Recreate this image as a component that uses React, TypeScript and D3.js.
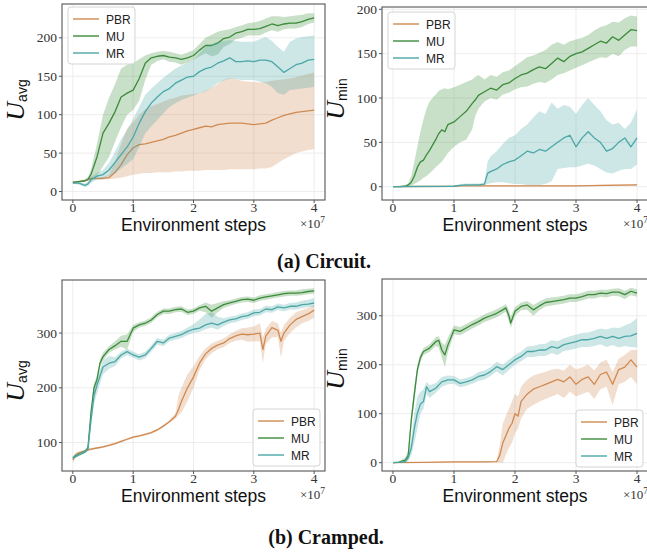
import React from 'react';
import * as d3 from 'd3';

// each row: [steps (x1e7), lower, mean, upper]
type Row = [number, number, number, number];

const methods = ['PBR', 'MU', 'MR'];
const colors = ['#cf8a52', '#3b8b3b', '#4ba7a7'];
const xTicks = [0, 1, 2, 3, 4];

const circuitAvgTicks = [0, 50, 100, 150, 200];
const circuitMinTicks = [0, 50, 100, 150, 200];
const crampedAvgTicks = [100, 200, 300];
const crampedMinTicks = [0, 100, 200, 300];

const circuitAvgPBR: Row[] = [
  [0, 11, 12, 13], [0.1, 12, 13, 14], [0.2, 13, 14, 15], [0.3, 16, 17, 18], [0.4, 16, 17, 18],
  [0.5, 16, 17, 19], [0.6, 16, 18, 22], [0.7, 17, 25, 40], [0.8, 18, 35, 62], [0.9, 20, 48, 82],
  [1.0, 22, 57, 90], [1.1, 23, 61, 100], [1.2, 24, 62, 107], [1.3, 24, 64, 111], [1.4, 25, 66, 114],
  [1.5, 25, 68, 117], [1.6, 25, 71, 120], [1.7, 26, 73, 122], [1.8, 26, 76, 125], [1.9, 27, 79, 126],
  [2.0, 27, 81, 127], [2.1, 27, 83, 128], [2.2, 28, 85, 131], [2.3, 28, 84, 135], [2.4, 28, 87, 140],
  [2.5, 28, 88, 145], [2.6, 29, 89, 148], [2.7, 29, 89, 146], [2.8, 29, 89, 144], [2.9, 29, 88, 143],
  [3.0, 29, 87, 143], [3.1, 30, 88, 142], [3.2, 30, 89, 143], [3.3, 32, 93, 144], [3.4, 37, 96, 145],
  [3.5, 42, 99, 146], [3.6, 46, 101, 147], [3.7, 50, 103, 149], [3.8, 52, 104, 151], [3.9, 54, 105, 153],
  [4.0, 55, 106, 155],
];
const circuitAvgMU: Row[] = [
  [0, 11, 12, 13], [0.1, 12, 13, 14], [0.2, 13, 14, 16], [0.25, 14, 16, 19], [0.3, 15, 22, 28],
  [0.4, 20, 45, 62], [0.5, 33, 76, 100], [0.6, 45, 89, 122], [0.7, 65, 104, 140], [0.8, 84, 123, 160],
  [0.9, 100, 128, 165], [1.0, 106, 132, 167], [1.1, 118, 147, 172], [1.2, 145, 167, 177], [1.3, 165, 174, 180],
  [1.4, 170, 176, 182], [1.5, 172, 177, 183], [1.6, 169, 175, 182], [1.7, 168, 174, 180], [1.8, 165, 172, 178],
  [1.9, 168, 174, 181], [2.0, 171, 177, 184], [2.1, 176, 184, 192], [2.2, 180, 190, 200], [2.3, 176, 190, 204],
  [2.4, 178, 193, 208], [2.5, 188, 199, 210], [2.6, 192, 201, 211], [2.7, 198, 206, 214], [2.8, 200, 208, 216],
  [2.9, 203, 211, 219], [3.0, 203, 211, 220], [3.1, 203, 212, 222], [3.2, 207, 215, 225], [3.3, 210, 218, 228],
  [3.4, 208, 216, 228], [3.5, 211, 218, 227], [3.6, 212, 219, 228], [3.7, 212, 219, 229], [3.8, 214, 221, 230],
  [3.9, 218, 224, 232], [4.0, 220, 226, 232],
];
const circuitAvgMR: Row[] = [
  [0, 10, 11, 12], [0.1, 9, 11, 13], [0.2, 6, 8, 10], [0.25, 7, 10, 13], [0.3, 11, 15, 19],
  [0.4, 16, 20, 24], [0.5, 17, 22, 28], [0.6, 20, 28, 37], [0.7, 24, 38, 52], [0.8, 30, 48, 68],
  [0.9, 36, 58, 80], [1.0, 42, 71, 95], [1.1, 58, 89, 110], [1.2, 76, 104, 126], [1.3, 85, 115, 134],
  [1.4, 93, 123, 141], [1.5, 102, 130, 148], [1.6, 110, 134, 154], [1.7, 115, 141, 160], [1.8, 119, 145, 164],
  [1.9, 122, 149, 168], [2.0, 125, 150, 171], [2.1, 128, 156, 180], [2.2, 130, 160, 188], [2.3, 135, 162, 192],
  [2.4, 141, 167, 195], [2.5, 144, 170, 196], [2.6, 147, 174, 197], [2.7, 146, 169, 196], [2.8, 145, 169, 195],
  [2.9, 145, 170, 195], [3.0, 145, 169, 195], [3.1, 143, 171, 198], [3.2, 141, 171, 201], [3.3, 136, 169, 196],
  [3.4, 128, 162, 188], [3.5, 126, 155, 182], [3.6, 132, 160, 195], [3.7, 133, 165, 199], [3.8, 134, 167, 201],
  [3.9, 135, 171, 202], [4.0, 136, 172, 203],
];

const circuitMinPBR: Row[] = [
  [0, 0, 0, 0], [1.0, 0, 0.5, 1], [1.1, 0.5, 1, 1.5], [2.0, 0.5, 1, 1.5], [3.0, 0.5, 1, 1.5],
  [3.5, 1, 1.5, 2.5], [4.0, 1, 2, 3],
];
const circuitMinMU: Row[] = [
  [0, 0, 0, 0], [0.1, 0, 0, 0.5], [0.2, 0, 0.5, 1.5], [0.25, 0.5, 2, 4], [0.3, 1, 5, 12],
  [0.35, 3, 12, 28], [0.4, 5, 22, 45], [0.45, 7, 28, 62], [0.5, 10, 30, 76], [0.55, 12, 36, 88],
  [0.6, 15, 41, 96], [0.7, 22, 53, 104], [0.75, 25, 60, 108], [0.8, 28, 64, 110], [0.85, 33, 62, 111],
  [0.9, 38, 70, 110], [1.0, 45, 73, 112], [1.1, 50, 79, 115], [1.2, 53, 85, 118], [1.3, 65, 94, 121],
  [1.35, 80, 98, 124], [1.4, 88, 103, 126], [1.5, 96, 107, 121], [1.6, 100, 111, 126], [1.7, 98, 109, 124],
  [1.8, 104, 115, 129], [1.9, 106, 117, 131], [2.0, 110, 122, 136], [2.1, 112, 126, 141], [2.2, 113, 128, 146],
  [2.3, 116, 132, 148], [2.4, 118, 135, 151], [2.5, 117, 133, 154], [2.6, 121, 139, 160], [2.7, 126, 145, 163],
  [2.8, 128, 141, 160], [2.9, 131, 147, 164], [3.0, 134, 150, 166], [3.1, 137, 152, 168], [3.2, 140, 156, 171],
  [3.3, 143, 160, 176], [3.4, 146, 164, 180], [3.5, 145, 162, 182], [3.6, 150, 169, 186], [3.7, 147, 165, 185],
  [3.8, 154, 171, 190], [3.9, 158, 177, 193], [4.0, 158, 176, 192],
];
const circuitMinMR: Row[] = [
  [0, 0, 0, 0], [1.0, 0, 0.5, 1], [1.1, 0.5, 1.5, 3], [1.2, 1, 2, 3.5], [1.4, 1, 2, 3.5],
  [1.5, 1.5, 3, 4.5], [1.55, 3, 15, 28], [1.6, 4, 17, 34], [1.7, 5, 20, 40], [1.8, 5, 25, 48],
  [1.9, 4, 28, 55], [2.0, 3, 30, 58], [2.1, 3, 35, 65], [2.2, 2, 40, 70], [2.3, 2, 38, 78],
  [2.4, 2, 42, 85], [2.5, 3, 40, 82], [2.6, 6, 45, 95], [2.7, 20, 50, 88], [2.8, 21, 55, 92],
  [2.9, 22, 58, 90], [3.0, 22, 45, 82], [3.1, 24, 55, 92], [3.2, 26, 62, 100], [3.3, 24, 55, 92],
  [3.4, 20, 50, 85], [3.5, 16, 40, 75], [3.6, 15, 43, 70], [3.7, 18, 50, 72], [3.8, 20, 55, 65],
  [3.9, 20, 45, 72], [4.0, 25, 55, 87],
];

const crampedAvgPBR: Row[] = [
  [0, 62, 68, 74], [0.05, 75, 78, 82], [0.1, 78, 81, 84], [0.2, 83, 85, 87], [0.3, 86, 88, 90],
  [0.4, 88, 90, 92], [0.5, 90, 92, 94], [0.6, 93, 95, 97], [0.7, 96, 98, 100], [0.8, 100, 102, 104],
  [0.9, 104, 106, 108], [1.0, 108, 110, 112], [1.1, 110, 112, 114], [1.2, 113, 115, 117], [1.3, 116, 118, 120],
  [1.4, 121, 123, 125], [1.5, 128, 130, 132], [1.6, 136, 138, 141], [1.7, 143, 148, 153], [1.75, 150, 160, 185],
  [1.8, 155, 175, 200], [1.9, 175, 200, 225], [2.0, 200, 220, 240], [2.1, 232, 245, 258], [2.2, 252, 262, 272],
  [2.3, 263, 272, 281], [2.4, 270, 278, 286], [2.5, 274, 282, 290], [2.6, 282, 290, 298], [2.7, 286, 295, 304],
  [2.8, 288, 298, 309], [2.9, 284, 297, 310], [3.0, 285, 298, 312], [3.1, 285, 300, 318], [3.15, 245, 270, 292],
  [3.2, 280, 295, 308], [3.3, 292, 310, 322], [3.4, 293, 305, 318], [3.45, 255, 285, 300], [3.5, 285, 300, 315],
  [3.6, 300, 315, 328], [3.7, 310, 325, 338], [3.8, 318, 330, 342], [3.9, 322, 335, 346], [4.0, 328, 342, 352],
];
const crampedAvgMU: Row[] = [
  [0, 70, 72, 76], [0.1, 76, 78, 81], [0.2, 81, 83, 86], [0.25, 86, 90, 95], [0.3, 145, 154, 162],
  [0.35, 190, 200, 208], [0.4, 208, 215, 222], [0.45, 238, 245, 252], [0.5, 250, 257, 264], [0.6, 264, 270, 276],
  [0.7, 270, 277, 285], [0.8, 275, 285, 295], [0.9, 270, 285, 298], [1.0, 302, 309, 315], [1.1, 310, 315, 320],
  [1.2, 313, 318, 323], [1.3, 319, 324, 329], [1.4, 329, 334, 339], [1.5, 335, 340, 345], [1.6, 335, 340, 345],
  [1.7, 338, 343, 348], [1.8, 339, 344, 349], [1.9, 333, 338, 343], [2.0, 335, 340, 345], [2.1, 341, 346, 351],
  [2.2, 338, 349, 356], [2.3, 328, 340, 352], [2.4, 338, 346, 355], [2.5, 346, 352, 358], [2.6, 350, 355, 360],
  [2.7, 353, 358, 363], [2.8, 356, 361, 366], [2.9, 357, 362, 367], [3.0, 355, 360, 365], [3.1, 359, 364, 369],
  [3.2, 361, 366, 371], [3.3, 363, 368, 373], [3.4, 365, 370, 375], [3.5, 367, 372, 377], [3.6, 368, 373, 378],
  [3.7, 368, 373, 378], [3.8, 369, 374, 380], [3.9, 371, 376, 381], [4.0, 372, 377, 382],
];
const crampedAvgMR: Row[] = [
  [0, 70, 72, 75], [0.1, 75, 78, 81], [0.2, 80, 83, 86], [0.25, 84, 88, 93], [0.3, 130, 140, 150],
  [0.35, 170, 185, 195], [0.4, 190, 205, 215], [0.5, 225, 238, 250], [0.6, 235, 245, 258], [0.7, 240, 248, 256],
  [0.8, 254, 260, 266], [0.9, 260, 266, 272], [1.0, 255, 260, 266], [1.1, 250, 256, 262], [1.2, 254, 260, 266],
  [1.3, 266, 272, 278], [1.4, 279, 285, 291], [1.5, 276, 282, 288], [1.6, 285, 291, 297], [1.7, 288, 294, 300],
  [1.8, 291, 297, 304], [1.9, 296, 303, 310], [2.0, 300, 307, 316], [2.1, 302, 309, 325], [2.2, 307, 315, 335],
  [2.3, 310, 318, 338], [2.4, 306, 315, 330], [2.5, 313, 320, 327], [2.6, 318, 324, 330], [2.7, 320, 326, 332],
  [2.8, 324, 330, 336], [2.9, 326, 332, 338], [3.0, 331, 337, 343], [3.1, 332, 338, 344], [3.2, 338, 344, 350],
  [3.3, 337, 343, 349], [3.4, 342, 348, 354], [3.5, 340, 346, 352], [3.6, 343, 349, 355], [3.7, 343, 349, 356],
  [3.8, 346, 352, 359], [3.9, 347, 353, 361], [4.0, 348, 355, 364],
];

const crampedMinPBR: Row[] = [
  [0, 0, 0, 0], [0.5, 0, 0.5, 1], [1.0, 0.5, 1.5, 3], [1.5, 0.5, 1.5, 3], [1.7, 1, 2, 4],
  [1.75, 0, 15, 35], [1.8, 0, 40, 80], [1.85, 15, 55, 95], [1.9, 30, 70, 110], [1.95, 40, 80, 125],
  [2.0, 60, 100, 140], [2.05, 70, 95, 135], [2.1, 90, 125, 155], [2.2, 110, 140, 170], [2.3, 118, 150, 178],
  [2.4, 125, 155, 182], [2.5, 130, 160, 185], [2.6, 135, 165, 190], [2.7, 140, 170, 192], [2.8, 132, 165, 188],
  [2.9, 145, 175, 200], [3.0, 135, 160, 190], [3.1, 140, 170, 195], [3.2, 145, 175, 200], [3.3, 130, 160, 188],
  [3.4, 150, 180, 205], [3.5, 155, 185, 210], [3.6, 118, 160, 185], [3.7, 160, 190, 212], [3.8, 165, 195, 220],
  [3.9, 175, 210, 230], [4.0, 160, 195, 230],
];
const crampedMinMU: Row[] = [
  [0, 0, 0, 0], [0.1, 0, 1, 3], [0.2, 2, 5, 10], [0.25, 8, 15, 25], [0.3, 75, 87, 100],
  [0.35, 125, 140, 155], [0.4, 180, 190, 200], [0.45, 205, 215, 222], [0.5, 220, 227, 234], [0.6, 226, 234, 242],
  [0.7, 238, 247, 256], [0.75, 235, 250, 258], [0.8, 215, 230, 245], [0.85, 195, 220, 240], [0.9, 225, 240, 255],
  [1.0, 262, 271, 280], [1.1, 260, 268, 277], [1.2, 267, 275, 283], [1.3, 274, 282, 290], [1.4, 280, 288, 296],
  [1.5, 287, 295, 303], [1.6, 292, 300, 308], [1.7, 297, 305, 313], [1.8, 304, 312, 320], [1.85, 308, 316, 324],
  [1.9, 288, 300, 312], [1.93, 275, 285, 298], [2.0, 300, 309, 318], [2.1, 311, 319, 327], [2.2, 312, 322, 330],
  [2.3, 300, 312, 322], [2.4, 311, 320, 329], [2.5, 319, 327, 335], [2.6, 321, 329, 337], [2.7, 323, 331, 339],
  [2.8, 325, 333, 341], [2.9, 328, 336, 344], [3.0, 328, 336, 344], [3.1, 331, 339, 347], [3.2, 335, 343, 351],
  [3.3, 335, 343, 351], [3.4, 339, 346, 353], [3.5, 337, 345, 353], [3.6, 341, 348, 355], [3.7, 340, 348, 356],
  [3.8, 334, 343, 351], [3.9, 342, 350, 357], [4.0, 339, 346, 354],
];
const crampedMinMR: Row[] = [
  [0, 0, 0, 0], [0.1, 0, 0.5, 1], [0.2, 0, 2, 5], [0.25, 3, 10, 18], [0.3, 15, 30, 50],
  [0.35, 40, 70, 100], [0.4, 70, 101, 135], [0.45, 100, 120, 145], [0.5, 110, 125, 150], [0.55, 140, 155, 165],
  [0.6, 132, 145, 158], [0.7, 142, 152, 162], [0.8, 155, 165, 175], [0.9, 160, 169, 178], [1.0, 161, 169, 177],
  [1.1, 154, 162, 170], [1.2, 157, 165, 173], [1.3, 161, 169, 177], [1.4, 167, 176, 185], [1.5, 170, 179, 188],
  [1.6, 177, 186, 195], [1.7, 186, 196, 206], [1.8, 178, 190, 200], [1.9, 189, 200, 210], [2.0, 200, 210, 220],
  [2.1, 207, 217, 227], [2.2, 216, 227, 237], [2.3, 216, 227, 238], [2.4, 218, 230, 242], [2.5, 218, 230, 243],
  [2.6, 224, 237, 250], [2.7, 220, 234, 248], [2.8, 228, 241, 254], [2.9, 230, 244, 258], [3.0, 233, 247, 261],
  [3.1, 236, 251, 265], [3.2, 236, 251, 266], [3.3, 238, 254, 270], [3.4, 242, 258, 274], [3.5, 236, 254, 272],
  [3.6, 240, 258, 276], [3.7, 235, 254, 275], [3.8, 238, 258, 280], [3.9, 236, 259, 285], [4.0, 235, 264, 295],
];

const sans = 'Liberation Sans, Arial, sans-serif';
const serif = 'Liberation Serif, Times New Roman, serif';

type PanelProps = {
  left: number; right: number; top: number; bottom: number;
  yDomain: [number, number]; yTicks: number[]; sub: string; labelY: number;
  series: Row[][]; legend: [number, number];
};

function Panel({ left, right, top, bottom, yDomain, yTicks, sub, labelY, series, legend }: PanelProps) {
  const x = d3.scaleLinear().domain([-0.18, 4.18]).range([left, right]);
  const y = d3.scaleLinear().domain(yDomain).range([bottom, top]);
  const line = d3.line<Row>().x(d => x(d[0])).y(d => y(d[2]));
  const area = d3.area<Row>().x(d => x(d[0])).y0(d => y(d[1])).y1(d => y(d[3]));
  const clipId = `clip-${left}-${top}`;
  const [lx, ly] = legend;

  return (
    <g>
      <defs>
        <clipPath id={clipId}>
          <rect x={left} y={top} width={right - left} height={bottom - top} />
        </clipPath>
      </defs>
      {/* grid */}
      {xTicks.map(t => (
        <line key={'gx' + t} x1={x(t)} x2={x(t)} y1={top} y2={bottom} stroke="#ebebeb" strokeWidth={0.9} />
      ))}
      {yTicks.map(t => (
        <line key={'gy' + t} x1={left} x2={right} y1={y(t)} y2={y(t)} stroke="#ebebeb" strokeWidth={0.9} />
      ))}
      <g clipPath={`url(#${clipId})`}>
        {series.map((s, i) => (
          <g key={methods[i]}>
            <path d={area(s) || ''} fill={colors[i]} fillOpacity={0.28} stroke="none" />
            <path d={line(s) || ''} fill="none" stroke={colors[i]} strokeWidth={1.3} strokeLinejoin="round" />
          </g>
        ))}
      </g>
      <rect x={left} y={top} width={right - left} height={bottom - top} fill="none" stroke="#555" strokeWidth={1.1} />
      {/* x axis */}
      {xTicks.map(t => (
        <g key={'xt' + t}>
          <line x1={x(t)} x2={x(t)} y1={bottom} y2={bottom + 3} stroke="#555" strokeWidth={1} />
          <text x={x(t)} y={bottom + 11.5} textAnchor="middle" fontFamily={serif} fontSize={13.5} fill="#333">{t}</text>
        </g>
      ))}
      {yTicks.map(t => (
        <g key={'yt' + t}>
          <line x1={left - 3} x2={left} y1={y(t)} y2={y(t)} stroke="#555" strokeWidth={1} />
          <text x={left - 5} y={y(t) + 4.5} textAnchor="end" fontFamily={serif} fontSize={13.5} fill="#333">{t}</text>
        </g>
      ))}
      <text x={(left + right) / 2} y={bottom + 30.5} textAnchor="middle" fontFamily={sans} fontSize={17.5} fill="#111">
        Environment steps
      </text>
      <text x={right} y={bottom + 28} textAnchor="end" fontFamily={serif} fontSize={13} fill="#333">
        ×10<tspan fontSize={9.5} dy={-5}>7</tspan>
      </text>
      <text transform={`translate(${left - 38},${labelY}) rotate(-90)`} textAnchor="middle" fill="#111">
        <tspan fontFamily={serif} fontStyle="italic" fontSize={26}>U</tspan>
        <tspan fontFamily={sans} fontSize={14} dy={3}>{sub}</tspan>
      </text>
      {/* legend */}
      <rect x={lx} y={ly} width={67} height={57} rx={3} fill="#fff" fillOpacity={0.8} stroke="#d0d0d0" strokeWidth={0.9} />
      {methods.map((m, i) => (
        <g key={'lg' + m}>
          <line x1={lx + 5} x2={lx + 31} y1={ly + 12 + i * 17} y2={ly + 12 + i * 17} stroke={colors[i]} strokeWidth={1.4} />
          <text x={lx + 38} y={ly + 16.5 + i * 17} fontFamily={sans} fontSize={12} fill="#222">{m}</text>
        </g>
      ))}
    </g>
  );
}

export default function App() {
  return (
    <svg width={647} height={555} style={{ position: 'absolute', left: 0, top: 0, background: '#fff' }}>
      <Panel left={62} right={325} top={4} bottom={200} yDomain={[-11, 244]} yTicks={circuitAvgTicks}
        sub="avg" labelY={100} series={[circuitAvgPBR, circuitAvgMU, circuitAvgMR]} legend={[68, 7]} />
      <Panel left={382} right={648} top={7} bottom={200} yDomain={[-15, 202.6]} yTicks={circuitMinTicks}
        sub="min" labelY={99} series={[circuitMinPBR, circuitMinMU, circuitMinMR]} legend={[388, 12]} />
      <Panel left={62} right={325} top={280} bottom={471} yDomain={[48, 397]} yTicks={crampedAvgTicks}
        sub="avg" labelY={381} series={[crampedAvgPBR, crampedAvgMU, crampedAvgMR]} legend={[253, 409]} />
      <Panel left={382} right={648} top={279} bottom={471} yDomain={[-17, 375]} yTicks={crampedMinTicks}
        sub="min" labelY={369} series={[crampedMinPBR, crampedMinMU, crampedMinMR]} legend={[576, 410]} />
      <text x={324} y={268} textAnchor="middle" fontFamily={serif} fontWeight="bold" fontSize={20} fill="#111">
        (a) Circuit.
      </text>
      <text x={326} y={544} textAnchor="middle" fontFamily={serif} fontWeight="bold" fontSize={20} fill="#111">
        (b) Cramped.
      </text>
    </svg>
  );
}
